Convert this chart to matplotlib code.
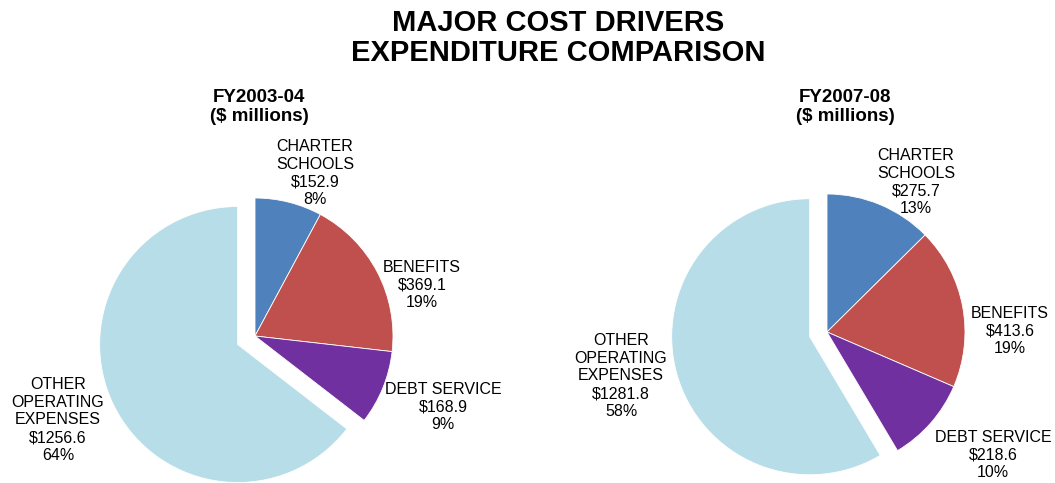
import matplotlib.pyplot as plt

plt.rcParams['font.family'] = ['Liberation Sans', 'DejaVu Sans']

# Cost categories and values ($ millions)
categories = ["CHARTER\nSCHOOLS", "BENEFITS", "DEBT SERVICE", "OTHER\nOPERATING\nEXPENSES"]
fy0304 = [152.9, 369.1, 168.9, 1256.6]
fy0708 = [275.7, 413.6, 218.6, 1281.8]
pct0304 = [8, 19, 9, 64]
pct0708 = [13, 19, 10, 58]
colors = ["#4F81BD", "#C0504D", "#7030A0", "#B7DDE8"]

W, H = 1055, 483
R = 138  # pie radius in pixels
L = 1.5  # half-range of each pie axes in data units

fig = plt.figure(figsize=(W / 100, H / 100), dpi=100)


def pie_axes(cx, cy):
    size = 2 * L * R
    ax = fig.add_axes([(cx - size / 2) / W, (H - cy - size / 2) / H, size / W, size / H])
    return ax


def draw(ax, values, pcts, explode, label_px, center_px, title, title_x):
    ax.pie(values, colors=colors, startangle=90, counterclock=False,
           explode=[0, 0, 0, explode],
           wedgeprops=dict(edgecolor="white", linewidth=0.6))
    # pie() resets the limits, so fix them afterwards
    ax.set_xlim(-L, L)
    ax.set_ylim(-L, L)
    ax.set_aspect("equal")
    ax.axis("off")
    cx, cy = center_px
    for name, v, p, (lx, ly) in zip(categories, values, pcts, label_px):
        ax.text((lx - cx) / R, (cy - ly) / R, f"{name}\n${v:.1f}\n{p}%",
                ha="center", va="center", fontsize=11.5, linespacing=1.22,
                clip_on=False)
    ax.text((title_x - cx) / R, (cy - 107) / R, title, ha="center", va="center",
            fontsize=13.5, fontweight="bold", linespacing=1.1, clip_on=False)


ax1 = pie_axes(255, 336)
draw(ax1, fy0304, pct0304, 0.14,
     [(315, 173), (422, 285), (443, 407), (58, 420)], (255, 336),
     "FY2003-04\n($ millions)", 259)

ax2 = pie_axes(827, 332)
draw(ax2, fy0708, pct0708, 0.13,
     [(916, 182), (1010, 331), (993, 455), (621, 376)], (827, 332),
     "FY2007-08\n($ millions)", 845)

fig.text(558 / W, 1 - 38 / H, "MAJOR COST DRIVERS\nEXPENDITURE COMPARISON",
         ha="center", va="center", fontsize=21, fontweight="bold", linespacing=1.1)

fig.savefig("out.png", dpi=100)
